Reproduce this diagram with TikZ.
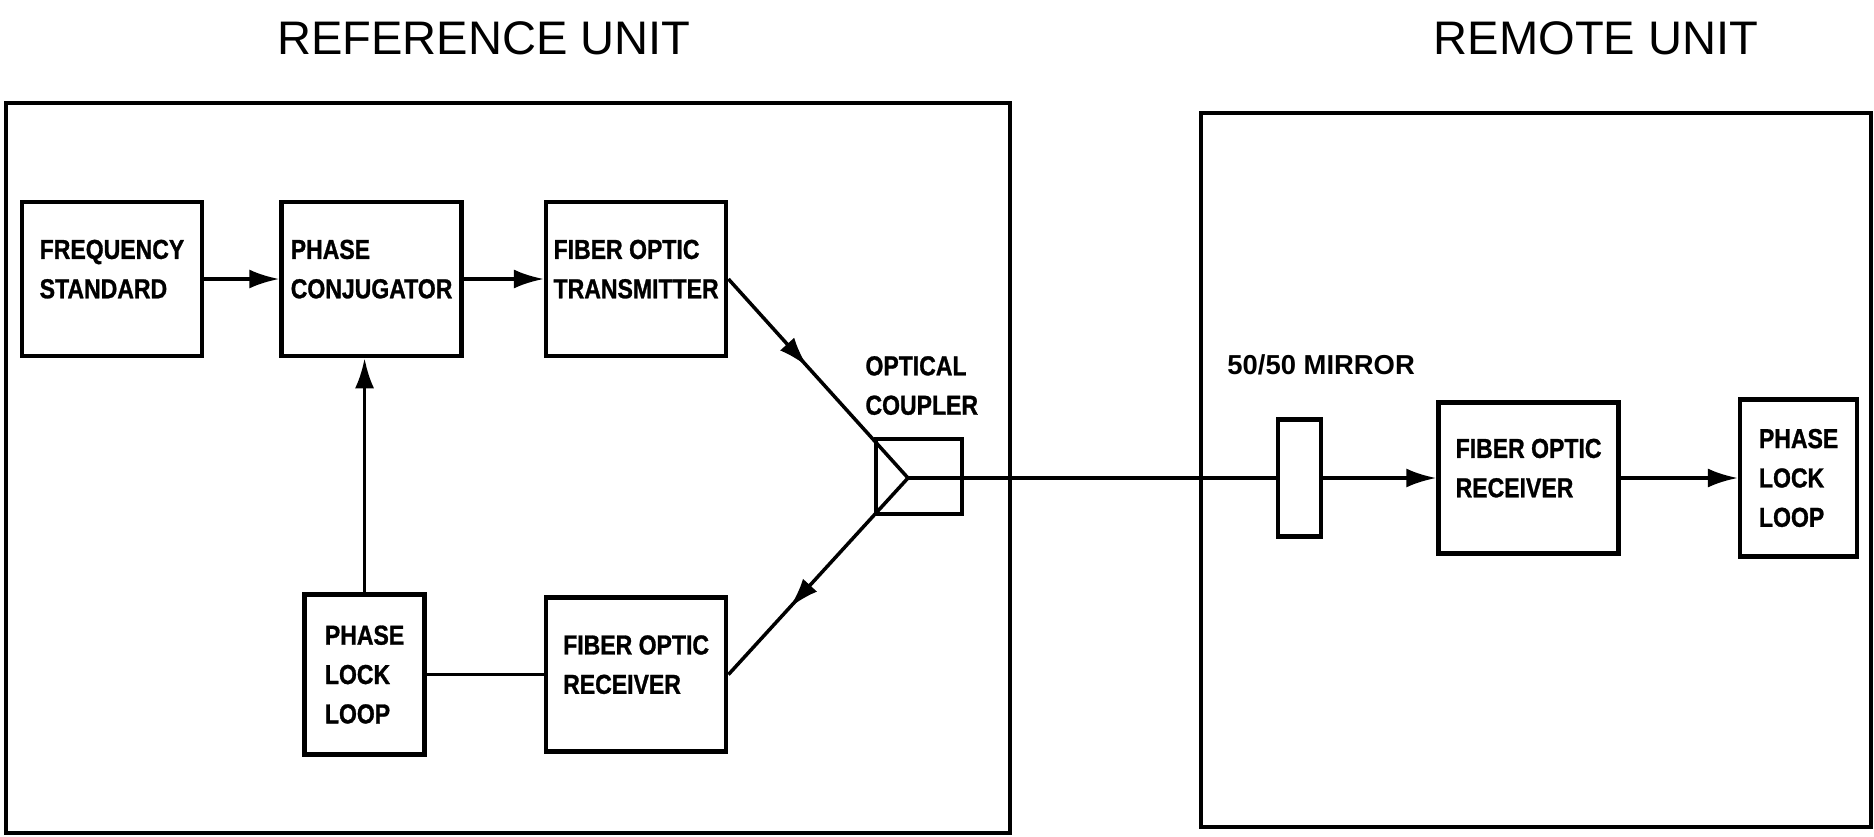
\documentclass[tikz,border=0pt]{standalone}
\usepackage{fontspec}
\setmainfont{Liberation Sans}
\newfontfamily\boxfont[FakeStretch=0.84, FakeBold=1]{Liberation Sans}
\usetikzlibrary{arrows.meta,
positioning,
decorations.markings}

\begin{document}
\begin{tikzpicture}[
	x=0.1mm, y=-0.1mm,
	line width=1pt,
	block/.style={
		draw,
		line width=1.3pt,
		minimum width=18mm,
		minimum height=15.4mm,
		inner sep=0pt,
		align=left,
		font=\boxfont\bfseries\fontsize{7.8}{11.2}\selectfont
	},
	twoline/.style={text depth=2mm},
	unitbox/.style={draw, line width=1.3pt, inner sep=0pt},
	unitname/.style={font=\fontsize{13.4}{16}\selectfont},
	lbl/.style={inner sep=0pt, align=left, font=\boxfont\bfseries\fontsize{7.8}{11.2}\selectfont},
	flow/.style={-{Latex[length=3mm,width=1.9mm]}},
	midflow/.style={postaction={decorate},
		decoration={markings, mark=at position #1 with {\arrow{Latex[length=3mm,width=1.9mm]}}}}
	]
	\useasboundingbox (0,0) rectangle (1874,836);
	
	% the two units
	\node[unitbox, minimum width=100.4mm, minimum height=73mm] (refunit) at (508,468) {};
	\node[unitbox, minimum width=67mm, minimum height=71.4mm] (remunit) at (1536,470) {};
	\node[unitname] (reftitle) at (484,38) {REFERENCE UNIT};
	\node[unitname] (remtitle) at (1596,38) {REMOTE UNIT};
	
	% reference unit
	\node[block, twoline] (freq) at (112,279) {FREQUENCY\\STANDARD};
	\node[block, twoline, right=7.5mm of freq] (conj) {PHASE\\CONJUGATOR};
	\node[block, twoline, right=8mm of conj] (trans) {FIBER OPTIC\\TRANSMITTER};
	\node[block, twoline, below=23.7mm of trans] (rxl) {FIBER OPTIC\\RECEIVER};
	\node[block, minimum width=12mm, minimum height=16mm, left=11.7mm of rxl] (pll) {PHASE\\LOCK\\LOOP};
	
	\node[draw, line width=1.3pt, inner sep=0pt, minimum width=8.6mm, minimum height=7.5mm] (coupler) at (919,476.5) {};
	\coordinate (apex) at (908,478);
	\node[lbl, above=2mm of coupler.north west, anchor=south west, xshift=-1mm] (couplerlbl) {OPTICAL\\COUPLER};
	
	% remote unit
	\node[draw, line width=1.3pt, inner sep=0pt, minimum width=4.3mm, minimum height=11.7mm] (mirror) at (1299.5,478) {};
	\node[lbl, font=\bfseries\fontsize{7.8}{11.2}\selectfont, above=4mm of mirror.north west, anchor=south west, xshift=-5mm] (mirrorlbl) {50/50 MIRROR};
	\node[block, twoline, minimum height=15.1mm, right=11.3mm of mirror] (rxr) {FIBER OPTIC\\RECEIVER};
	\node[block, minimum width=11.7mm, minimum height=15.7mm, right=11.7mm of rxr] (pllr) {PHASE\\LOCK\\LOOP};
	
	% connectors
	\draw[flow] (freq) -- (conj);
	\draw[flow] (conj) -- (trans);
	\draw[flow] (pll) -- (pll |- conj.south);
	\draw (pll) -- (rxl);
	\draw[midflow=0.44] (trans.east) -- (apex);
	\draw[midflow=0.66] (apex) -- (rxl.east);
	\draw (apex) -- (mirror);
	\draw[flow] (mirror) -- (rxr);
	\draw[flow] (rxr) -- (pllr);
\end{tikzpicture}
\end{document}
